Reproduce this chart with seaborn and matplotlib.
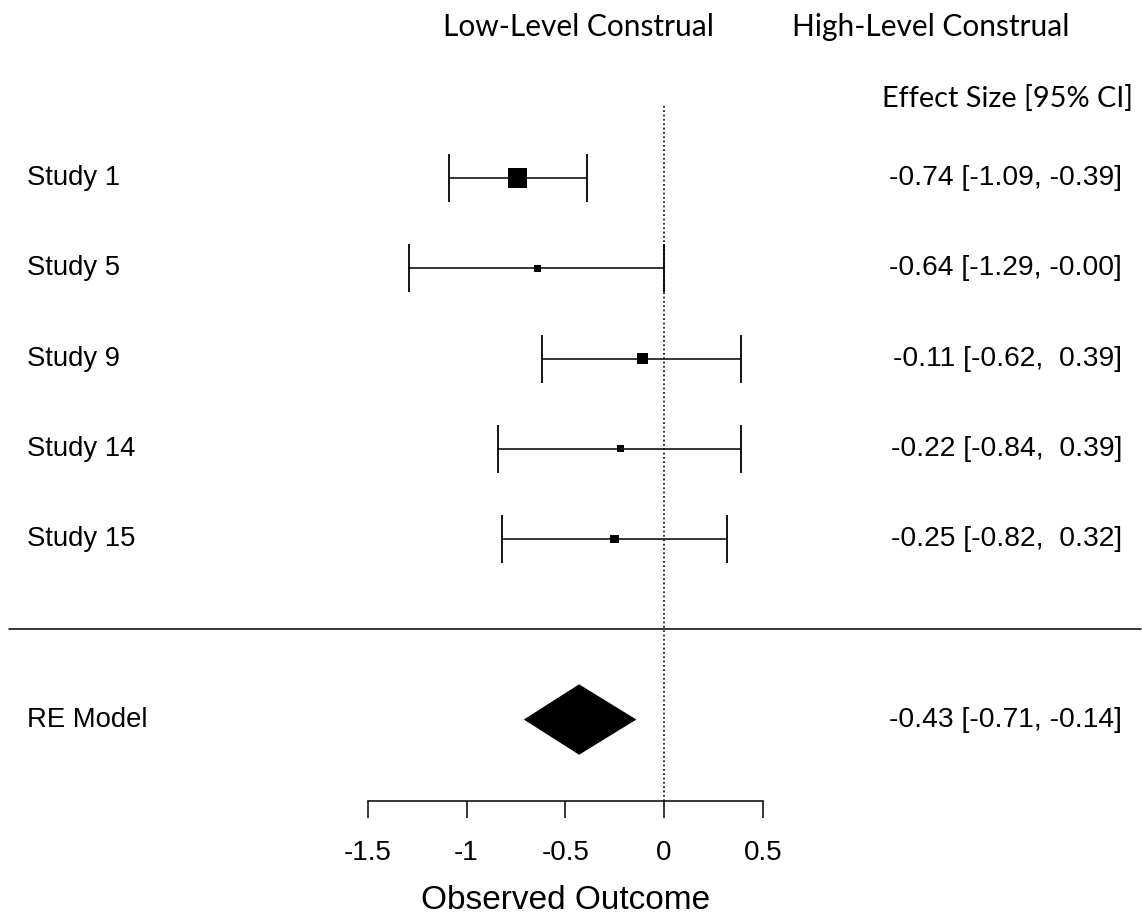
import numpy as np
import pandas as pd
import seaborn as sns
import matplotlib.pyplot as plt

# study data
studies = ["Study 1", "Study 5", "Study 9", "Study 14", "Study 15"]
estimates = [-0.74, -0.64, -0.11, -0.22, -0.25]
ci_lower = [-1.09, -1.29, -0.62, -0.84, -0.82]
ci_upper = [-0.39, -0.00, 0.39, 0.39, 0.32]
rows = [5, 4, 3, 2, 1]

# random effects summary
re_label = "RE Model"
re_est = -0.43
re_lower = -0.71
re_upper = -0.14
re_row = -1

x_ticks = [-1.5, -1, -0.5, 0, 0.5]


def fmt_ci(est, lo, hi):
	def f(v):
		s = "%.2f" % v
		if v == 0 and s == "0.00":
			s = "-0.00" if lo < 0 and hi <= 0 else s
		return s if s.startswith("-") else " " + s
	return "%s [%s, %s]" % (f(est), f(lo), f(hi))


def main():
	sns.set_theme(style="ticks")
	plt.rcParams["font.family"] = ["Liberation Sans", "DejaVu Sans"]
	plt.rcParams["text.color"] = "black"
	plt.rcParams["xtick.color"] = "black"

	fig = plt.figure(figsize=(11.42, 9.19), dpi=100)
	ax = fig.add_axes([0, 0, 1, 1])
	ax.set_xlim(-3.362, 2.420)
	ax.set_ylim(-3.21, 6.972)

	df = pd.DataFrame({"study": studies, "est": estimates, "lo": ci_lower, "hi": ci_upper, "row": rows})

	# square side proportional to precision (as metafor does)
	prec = 1 / ((df["hi"] - df["lo"]) / (2 * 1.96))
	side = 4.7 + (prec - prec.min()) / (prec.max() - prec.min()) * (13.7 - 4.7)
	df["area"] = side ** 2

	# confidence intervals
	ax.errorbar(df["est"], df["row"], xerr=[df["est"] - df["lo"], df["hi"] - df["est"]],
				fmt="none", ecolor="black", elinewidth=1.1, capsize=17, capthick=1.3, zorder=2)

	# point estimates
	sns.scatterplot(data=df, x="est", y="row", size="area", sizes=(df["area"].min(), df["area"].max()),
					size_norm=(df["area"].min(), df["area"].max()), marker="s", color="black",
					edgecolor="black", linewidth=0, legend=False, ax=ax, zorder=3)

	# summary diamond
	ax.fill([re_lower, re_est, re_upper, re_est], [re_row, re_row + 0.39, re_row, re_row - 0.39],
			color="black", lw=0, zorder=3)

	# reference line and separator
	ax.plot([0, 0], [-1.903, 5.81], color="black", ls=(0, (1, 1.6)), lw=1.2, zorder=1)
	ax.axhline(0, xmin=0.008, xmax=0.999, color="black", lw=1.1)

	# labels
	for _, r in df.iterrows():
		ax.text(-3.225, r["row"], r["study"], ha="left", va="center", fontsize=19.8)
		ax.text(2.319, r["row"], fmt_ci(r["est"], r["lo"], r["hi"]), ha="right", va="center", fontsize=20.3)
	ax.text(-3.225, re_row, re_label, ha="left", va="center", fontsize=19.8)
	ax.text(2.319, re_row, fmt_ci(re_est, re_lower, re_upper), ha="right", va="center", fontsize=20.3)

	head_font = ["Lato", "DejaVu Sans"]
	ax.text(-0.435, 6.673, "Low-Level Construal", ha="center", va="center", fontsize=21.5, family=head_font)
	ax.text(1.352, 6.673, "High-Level Construal", ha="center", va="center", fontsize=21.5, family=head_font)
	ax.text(2.375, 5.886, "Effect Size [95% CI]", ha="right", va="center", fontsize=20.8, family=head_font)

	# x axis
	for s in ["left", "top", "right"]:
		ax.spines[s].set_visible(False)
	ax.spines["bottom"].set_position(("data", -1.903))
	ax.spines["bottom"].set_bounds(x_ticks[0], x_ticks[-1])
	ax.spines["bottom"].set_linewidth(1.1)
	ax.spines["bottom"].set_color("black")
	ax.set_yticks([])
	ax.set_xticks(x_ticks)
	ax.set_xticklabels(["%g" % t for t in x_ticks])
	ax.tick_params(axis="x", direction="out", length=12.2, width=1.1, color="black", pad=16, labelsize=20)
	ax.text(-0.5, -3.0, "Observed Outcome", ha="center", va="center", fontsize=24)
	ax.set_xlabel("")
	ax.set_ylabel("")

	fig.savefig("out.png", dpi=100)


if __name__ == "__main__":
	main()
